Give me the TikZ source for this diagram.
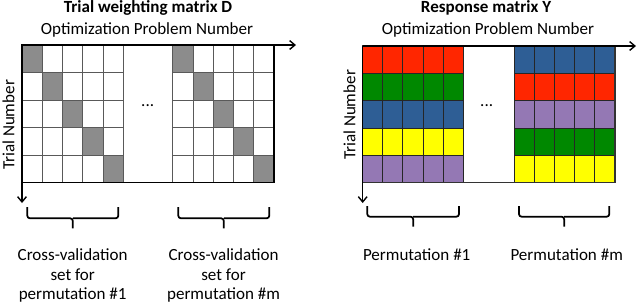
\documentclass[tikz,border=0pt]{standalone}
\usepackage{fontspec}
\setmainfont{Carlito}
\usetikzlibrary{arrows.meta}
\definecolor{CellRed}{HTML}{FF2600}
\definecolor{CellGreen}{HTML}{008800}
\definecolor{CellBlue}{HTML}{2E5E95}
\definecolor{CellYellow}{HTML}{FFFF00}
\definecolor{CellPurple}{HTML}{9478B4}
\definecolor{CellGray}{HTML}{8C8C8C}
\begin{document}
\begin{tikzpicture}[x=0.02cm, y=-0.02cm, font=\fontsize{9.7}{11}\selectfont,
  axis/.style={-{Straight Barb[length=3pt, width=5pt]}, line width=0.8pt},
  wcell/.style={draw=black!65, line width=0.5pt},
  ccell/.style={draw=black!85, line width=0.5pt},
  bracket/.style={line width=1pt, rounded corners=1.5pt},
  heading/.style={font=\fontsize{9.7}{11}\selectfont\bfseries}]
  \useasboundingbox (0,0) rectangle (640,305);

  % trial weighting matrix D
  \foreach \bx in {22,172.7}
    \foreach \c in {0,...,4}
      \foreach \r in {0,...,4} {
        \ifnum\c=\r \def\cellfill{CellGray}\else\def\cellfill{white}\fi
        \draw[wcell, fill=\cellfill] (\bx+\c*20.25, 45+\r*27.5) rectangle ++(20.25, 27.5);
      }
  \draw[line width=0.7pt] (22,45) rectangle (274,182.7);

  % response matrix Y
  \foreach \r/\ca/\cb in {0/CellRed/CellBlue, 1/CellGreen/CellRed, 2/CellBlue/CellPurple, 3/CellYellow/CellGreen, 4/CellPurple/CellYellow}
    \foreach \c in {0,...,4} {
      \draw[ccell, fill=\ca] (362.7+\c*20.1, 46+\r*27.35) rectangle ++(20.1, 27.35);
      \draw[ccell, fill=\cb] (514.3+\c*20.1, 46+\r*27.35) rectangle ++(20.1, 27.35);
    }
  \draw[line width=0.7pt, black!80] (362.7,46) rectangle (615,182.7);

  % axes
  \coordinate (dorigin) at (22,45);
  \coordinate (dxend) at (296,45);
  \coordinate (dyend) at (22,203);
  \coordinate (yorigin) at (362.7,46);
  \coordinate (yxend) at (636,46);
  \coordinate (yyend) at (362.7,203);
  \draw[axis] (dorigin) -- (dxend);
  \draw[axis] (dorigin) -- (dyend);
  \draw[axis] (yorigin) -- (yxend);
  \draw[axis] (yorigin) -- (yyend);

  % texts
  \node[heading] (dtitle) at (148,8) {Trial weighting matrix D};
  \node[heading] (ytitle) at (486,8) {Response matrix Y};
  \node (dxlabel) at (147,30) {Optimization Problem Number};
  \node (yxlabel) at (488,30) {Optimization Problem Number};
  \node[rotate=90] (dylabel) at (8.5,125) {Trial Number};
  \node[rotate=90] (yylabel) at (349.5,115) {Trial Number};
  \node (ddots) at (147.7,106) {...};
  \node (ydots) at (486.7,106) {...};

  % brackets
  \draw[bracket] (27.3,207) |- (72.8,218.3) -- (72.8,228.3);
  \draw[bracket] (72.8,218.3) -| (118.3,207);
  \draw[bracket] (178.3,207) |- (223.8,218.3) -- (223.8,228.3);
  \draw[bracket] (223.8,218.3) -| (269.3,207);
  \draw[bracket] (367.3,206) |- (413.2,216.7) -- (413.2,226.7);
  \draw[bracket] (413.2,216.7) -| (459,206);
  \draw[bracket] (519,206) |- (564.2,216.7) -- (564.2,226.7);
  \draw[bracket] (564.2,216.7) -| (609.3,206);

  \node[align=center] (dset1) at (72.7,275.5) {Cross-validation\\set for\\permutation \#1};
  \node[align=center] (dsetm) at (223.5,275.5) {Cross-validation\\set for\\permutation \#m};
  \node (yperm1) at (416.7,255) {Permutation \#1};
  \node (ypermm) at (566.7,255) {Permutation \#m};
\end{tikzpicture}
\end{document}
